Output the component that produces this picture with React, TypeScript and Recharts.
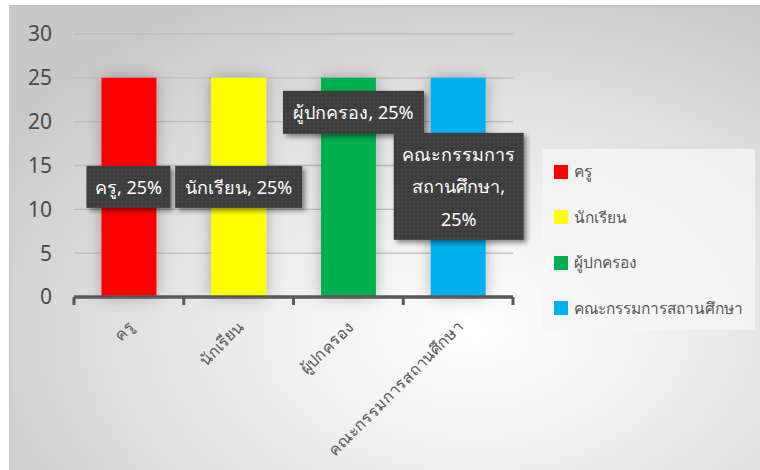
import React from 'react';
import { BarChart, Bar, XAxis, YAxis, CartesianGrid, Legend, LabelList, Cell } from 'recharts';

const categories = ['ครู', 'นักเรียน', 'ผู้ปกครอง', 'คณะกรรมการสถานศึกษา'];
const values = [25, 25, 25, 25];
const percentLabels = ['25%', '25%', '25%', '25%'];
const yTicks = [0, 5, 10, 15, 20, 25, 30];
const colors = ['#FF0000', '#FFFF00', '#00B050', '#00B0F0'];
// how the long category name wraps inside its callout
const calloutWraps: (string[] | null)[] = [null, null, null, ['คณะกรรมการ', 'สถานศึกษา']];

// callout box styling relative to its bar (centre offset from bar top, box size)
const calloutStyle = [
  { dx: -0.5, dy: 109, w: 84, h: 42 },
  { dx: 0, dy: 109, w: 127, h: 42 },
  { dx: 5, dy: 34.5, w: 141, h: 43 },
  { dx: 0.5, dy: 108.5, w: 130, h: 107 },
];

const FONT = "'Noto Sans', 'Open Sans', sans-serif";

const data = categories.map((name, i) => ({ name, value: values[i], pct: percentLabels[i] }));

const calloutLines = (i: number) => {
  const wrap = calloutWraps[i];
  if (wrap) {
    return [...wrap.slice(0, -1), wrap[wrap.length - 1] + ',', percentLabels[i]];
  }
  return [`${categories[i]}, ${percentLabels[i]}`];
};

const Callout = (props: any) => {
  const { x, y, width, index } = props;
  const s = calloutStyle[index];
  if (!s) return null;
  const cx = Number(x) + Number(width) / 2 + s.dx;
  const cy = Number(y) + s.dy;
  const lines = calloutLines(index);
  const lh = 32.5;
  const startY = cy - ((lines.length - 1) * lh) / 2;
  return (
    <g>
      <rect
        x={cx - s.w / 2}
        y={cy - s.h / 2}
        width={s.w}
        height={s.h}
        fill="url(#dotPattern)"
        filter="url(#boxShadow)"
      />
      {lines.map((ln, k) => (
        <text
          key={k}
          x={cx}
          y={startY + k * lh}
          textAnchor="middle"
          dominantBaseline="central"
          fill="#ffffff"
          fontSize={18}
          fontFamily={FONT}
        >
          {ln}
        </text>
      ))}
    </g>
  );
};

const XTick = (props: any) => {
  const { x, y, payload, index } = props;
  const half = payload && typeof payload.offset === 'number' && payload.offset > 0 ? payload.offset : 439 / categories.length / 2;
  const ax = Number(x) + 6;
  const ay = Number(y) + 31;
  return (
    <g>
      <line x1={x - half} y1={y} x2={x - half} y2={y + 8} stroke="#595959" strokeWidth={3} />
      {index === categories.length - 1 && (
        <line x1={x + half} y1={y} x2={x + half} y2={y + 8} stroke="#595959" strokeWidth={3} />
      )}
      <text
        x={ax}
        y={ay}
        textAnchor="end"
        fill="#595959"
        fontSize={16}
        fontFamily={FONT}
        transform={`rotate(-45, ${ax}, ${ay})`}
      >
        {payload.value}
      </text>
    </g>
  );
};

const LegendBox = () => (
  <div
    style={{
      width: 213,
      height: 181,
      background: 'rgba(246,246,246,0.75)',
      boxSizing: 'border-box',
      paddingTop: 0,
      fontFamily: FONT,
    }}
  >
    {categories.map((c, i) => (
      <div key={c} style={{ height: 45.5, display: 'flex', alignItems: 'center', paddingLeft: 12 }}>
        <span style={{ width: 14, height: 14, background: colors[i], display: 'inline-block', marginRight: 6 }} />
        <span style={{ fontSize: 15.5, color: '#595959' }}>{c}</span>
      </div>
    ))}
  </div>
);

export default function App() {
  return (
    <div style={{ position: 'absolute', left: 0, top: 0, width: 760, height: 470, background: '#ffffff' }}>
      <svg width={0} height={0} style={{ position: 'absolute' }}>
        <defs>
          <pattern id="dotPattern" width={4} height={4} patternUnits="userSpaceOnUse">
            <rect width={4} height={4} fill="#3c3c3c" />
            <circle cx={2} cy={2} r={0.7} fill="#555555" />
          </pattern>
          <filter id="boxShadow" x="-20%" y="-20%" width="150%" height="160%">
            <feDropShadow dx={3} dy={3} stdDeviation={2.5} floodColor="#000" floodOpacity={0.45} />
          </filter>
          <filter id="barShadow" x="-50%" y="-20%" width="200%" height="140%">
            <feDropShadow dx={0} dy={0} stdDeviation={8} floodColor="#000" floodOpacity={0.28} />
          </filter>
        </defs>
      </svg>
      <div
        style={{
          position: 'absolute',
          left: 9,
          top: 5,
          width: 751,
          height: 465,
          boxSizing: 'border-box',
          borderTop: '2px solid #c4c4c4',
          borderLeft: '1px solid #c8c8c8',
          background:
            'radial-gradient(ellipse 75% 80% at 62% 70%, #ffffff 0%, #f2f2f2 30%, #dcdcdc 70%, #c8c8c8 100%)',
        }}
      />
      <div style={{ position: 'absolute', left: 0, top: 0 }}>
        <BarChart
          width={760}
          height={470}
          data={data}
          margin={{ top: 34, right: 247, bottom: 0, left: 0 }}
          barCategoryGap="25%"
        >
          <CartesianGrid vertical={false} stroke="#bdbdbd" strokeWidth={1.3} />
          <XAxis
            dataKey="name"
            height={173}
            interval={0}
            tickSize={0}
            tickMargin={0}
            tickLine={false}
            axisLine={{ stroke: '#595959', strokeWidth: 3.5 }}
            tick={<XTick />}
          />
          <YAxis
            width={74}
            domain={[0, 30]}
            ticks={yTicks}
            axisLine={false}
            tickLine={false}
            tickSize={0}
            tickMargin={22}
            tick={{ fill: '#4a4a4a', fontSize: 21, fontFamily: FONT }}
          />
          <Legend
            layout="horizontal"
            verticalAlign="middle"
            align="center"
            wrapperStyle={{ left: 542, top: 149, width: 213, height: 181 }}
            content={() => <LegendBox />}
          />
          <Bar dataKey="value" isAnimationActive={false}>
            {data.map((d, i) => (
              <Cell key={d.name} fill={colors[i]} filter="url(#barShadow)" />
            ))}
            <LabelList dataKey="value" content={<Callout />} />
          </Bar>
        </BarChart>
      </div>
    </div>
  );
}
